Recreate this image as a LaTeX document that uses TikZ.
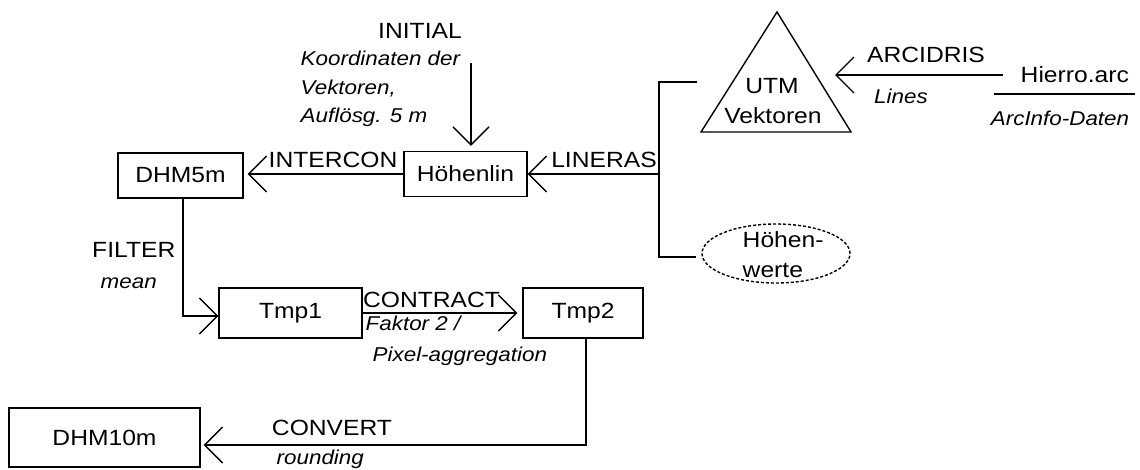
\documentclass[tikz,border=0pt]{standalone}
\usepackage{fontspec}
\setmainfont{Liberation Sans}[FakeStretch=1.12]
\usetikzlibrary{arrows.meta,shapes.geometric}
\newcommand\lblfont{\fontsize{22pt}{26pt}\selectfont}
\newcommand\notefont{\fontsize{20pt}{24pt}\selectfont\itshape}
\begin{document}
\begin{tikzpicture}[x=1pt,y=-1pt,line width=1.4pt,
  >={Straight Barb[length=18pt,width=36pt]},
  arr/.style={->},
  box/.style={draw,rectangle,inner sep=0pt,font=\lblfont},
  lbl/.style={inner sep=0pt,font=\lblfont},
  note/.style={inner sep=0pt,font=\notefont}]
\useasboundingbox (0,0) rectangle (1140,469);

% raster layers
\node[box,minimum width=125pt,minimum height=45pt] (dhm5) at (180.5,175.5) {DHM5m};
\node[box,minimum width=123pt,minimum height=45pt] (hoehen) at (465.5,174) {Höhenlin};
\node[box,minimum width=143pt,minimum height=50pt] (tmp1) at (290.5,313) {Tmp1};
\node[box,minimum width=120pt,minimum height=50pt] (tmp2) at (583,313) {Tmp2};
\node[box,minimum width=191pt,minimum height=59pt] (dhm10) at (104.5,437.5) {DHM10m};

% vector layer (triangle)
\draw (701,132) -- (777,12) -- (851,132) -- cycle;
\node[lbl,anchor=base] (utm) at (772,93) {UTM};
\node[lbl,anchor=base] (vek) at (773,123) {Vektoren};

% point values (ellipse)
\node[draw,ellipse,dash pattern=on 3pt off 2pt,minimum width=148pt,minimum height=59pt,inner sep=0pt] (hw) at (776,253.5) {};
\node[lbl,anchor=base west] (hw1) at (742,247) {Höhen-};
\node[lbl,anchor=base west] (hw2) at (742,277) {werte};

% source file
\node[lbl,anchor=west,inner xsep=17pt,inner ysep=0pt] (hierro) at (1003,75) {Hierro.arc};
\draw (994,94) -- (1135,94);
\node[note,anchor=base] (arcinfo) at (1060,125) {ArcInfo-Daten};

% ARCIDRIS
\coordinate (utmin) at (835,75);
\draw[arr] (hierro.west) -- (utmin);
\node[lbl,anchor=base] (larcidris) at (926,62) {ARCIDRIS};
\node[note,anchor=base] (llines) at (901,103) {Lines};

% LINERAS bracket
\coordinate (btop) at (697,82);
\coordinate (bj) at (659,174);
\draw (btop) -| (bj) |- ([xshift=-5pt,yshift=-3.5pt]hw.west);
\draw[arr] (bj) -- (hoehen.east);
\node[lbl,anchor=base] (llineras) at (604,167) {LINERAS};

% INITIAL
\coordinate (ini) at (471,63);
\draw[arr,shorten >=5pt] (ini) -- (ini |- hoehen.north);
\node[lbl,anchor=base] (linitial) at (420,38) {INITIAL};
\node[note,anchor=base west] (lini1) at (300,65) {Koordinaten der};
\node[note,anchor=base west] (lini2) at (300,94) {Vektoren,};
\node[note,anchor=base west] (lini3) at (300,122) {Auflösg. 5 m};

% INTERCON
\draw[arr,shorten >=4pt] (hoehen.west) -- (hoehen.west -| dhm5.east);
\node[lbl,anchor=base west] (lintercon) at (268,167) {INTERCON};

% FILTER
\draw[arr] ([xshift=2.5pt]dhm5.south) |- ([yshift=-3pt]tmp1.west);
\node[lbl,anchor=base east] (lfilter) at (176,257) {FILTER};
\node[note,anchor=base west] (lmean) at (100,288) {mean};

% CONTRACT
\draw[arr,shorten >=5pt] (tmp1.east) -- (tmp2.west);
\node[lbl,anchor=base] (lcontract) at (431.5,307) {CONTRACT};
\node[note,anchor=base west] (lfak) at (365,330) {Faktor 2 /};
\node[note,anchor=base west] (lpix) at (372,361) {Pixel-aggregation};

% CONVERT
\draw[arr,shorten >=3pt] ([xshift=3pt]tmp2.south) |- ([yshift=-7.5pt]dhm10.east);
\node[lbl,anchor=base] (lconvert) at (332,435) {CONVERT};
\node[note,anchor=base west] (lround) at (276,464) {rounding};
\end{tikzpicture}
\end{document}
